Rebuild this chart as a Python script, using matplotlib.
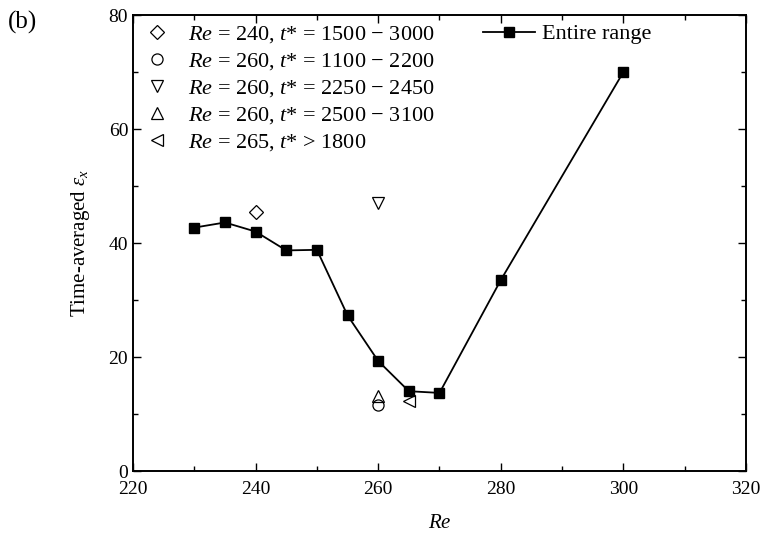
import matplotlib
matplotlib.use('Agg')
import matplotlib.pyplot as plt
from matplotlib.ticker import MultipleLocator

plt.rcParams['font.family'] = 'Liberation Serif'
plt.rcParams['mathtext.fontset'] = 'custom'
plt.rcParams['mathtext.rm'] = 'Liberation Serif'
plt.rcParams['mathtext.it'] = 'Liberation Serif:italic'

# entire range
re_all = [230, 235, 240, 245, 250, 255, 260, 265, 270, 280, 300]
eps_all = [42.7, 43.6, 42.0, 38.7, 38.8, 27.3, 19.3, 14.0, 13.7, 33.5, 70.0]

# partial ranges
re_240a, eps_240a = [240], [45.5]
re_260a, eps_260a = [260], [11.6]
re_260b, eps_260b = [260], [47.0]
re_260c, eps_260c = [260], [13.2]
re_265a, eps_265a = [265], [12.3]

labels = [r'$Re$ = 240, $t$* = 1500 $-$ 3000',
          r'$Re$ = 260, $t$* = 1100 $-$ 2200',
          r'$Re$ = 260, $t$* = 2250 $-$ 2450',
          r'$Re$ = 260, $t$* = 2500 $-$ 3100',
          r'$Re$ = 265, $t$* > 1800']

fig = plt.figure(figsize=(7.61, 5.4), dpi=100)
ax = fig.add_axes([133/761, 69/540, 613/761, 456/540])

mk = dict(linestyle='none', markerfacecolor='none', markeredgecolor='black',
          markersize=8.5, markeredgewidth=0.9)
h1, = ax.plot(re_240a, eps_240a, marker='D', **dict(mk, markersize=7))
h2, = ax.plot(re_260a, eps_260a, marker='o', **dict(mk, markersize=8))
h3, = ax.plot(re_260b, eps_260b, marker='v', **mk)
h4, = ax.plot(re_260c, eps_260c, marker='^', **mk)
h5, = ax.plot(re_265a, eps_265a, marker='<', **mk)
hl, = ax.plot(re_all, eps_all, color='black', lw=1.3, marker='s',
              markersize=7.5, markerfacecolor='black')

leg1 = ax.legend([h1, h2, h3, h4, h5], labels, loc='upper left',
                 bbox_to_anchor=(0.0065, 1.0), frameon=False,
                 fontsize=16, handlelength=1.0, handletextpad=0.9,
                 labelspacing=0.27, borderaxespad=0.0)
ax.add_artist(leg1)
ax.legend([hl], ['Entire range'], loc='upper left', bbox_to_anchor=(0.557, 1.0),
          frameon=False, fontsize=16, handlelength=2.34, handletextpad=0.32,
          borderaxespad=0.0)

ax.set_xlim(220, 320)
ax.set_ylim(0, 80)
ax.xaxis.set_major_locator(MultipleLocator(20))
ax.xaxis.set_minor_locator(MultipleLocator(10))
ax.yaxis.set_major_locator(MultipleLocator(20))
ax.yaxis.set_minor_locator(MultipleLocator(10))
ax.tick_params(which='both', direction='in', top=True, right=True, labelsize=14)
ax.tick_params(which='major', length=6, width=1)
ax.tick_params(which='minor', length=3.5, width=1)
ax.tick_params(axis='x', which='major', pad=7)
for s in ax.spines.values():
    s.set_linewidth(1.4)

ax.set_xlabel(r'$Re$', fontsize=15, labelpad=12)
ax.set_ylabel(r'Time-averaged $\varepsilon_x$', fontsize=15, labelpad=12)
fig.text(8/761, 1 - 22/540, '(b)', fontsize=18, va='center')

fig.savefig('out.png', dpi=100)
